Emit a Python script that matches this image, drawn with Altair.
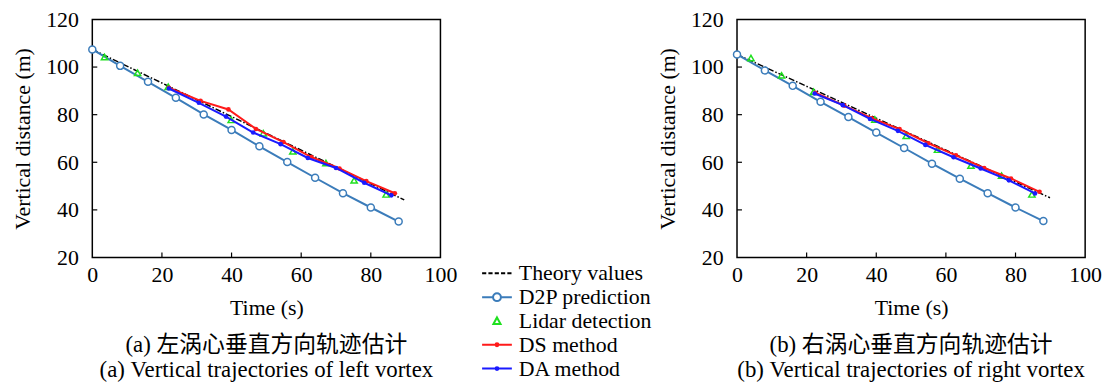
import altair as alt
import pandas as pd

# ---------------- data ----------------
SERIES = ["Theory values", "D2P prediction", "Lidar detection", "DS method", "DA method"]
COLORS = ["#000000", "#3b7cba", "#1fe01f", "#ff1a1a", "#1a1aff"]

X_TICKS = [0, 20, 40, 60, 80, 100]
Y_TICKS = [20, 40, 60, 80, 100, 120]
X_INNER_TICKS = [20, 40, 60, 80]
Y_INNER_TICKS = [40, 60, 80, 100]

d2p_t = [0, 8, 16, 24, 32, 40, 48, 56, 64, 72, 80, 88]

# left vortex
left_theory_t = [0, 89.6]
left_theory_v = [107.4, 44.2]
left_d2p_v = [107.4, 100.5, 93.8, 87.1, 80.1, 73.6, 66.7, 60.1, 53.5, 47.0, 41.0, 35.1]
left_lidar_t = [3.5, 13.0, 21.8, 39.9, 49.1, 57.6, 67.1, 75.2, 84.4]
left_lidar_v = [104.2, 97.6, 91.7, 77.8, 72.2, 64.6, 59.7, 52.4, 46.5]
left_ds_t = [22.0, 31.1, 39.1, 47.0, 54.9, 62.9, 71.0, 78.7, 86.9]
left_ds_v = [91.3, 85.8, 82.2, 74.0, 68.5, 62.2, 57.4, 52.1, 47.0]
left_da_t = [22.0, 30.6, 38.4, 46.2, 54.1, 61.9, 70.0, 78.1, 85.9]
left_da_v = [91.0, 85.0, 79.2, 72.5, 67.6, 61.8, 57.6, 51.4, 46.1]

# right vortex
right_theory_t = [0, 89.9]
right_theory_v = [105.3, 45.1]
right_d2p_v = [105.3, 98.6, 92.1, 85.4, 79.0, 72.5, 66.0, 59.4, 53.1, 47.0, 41.0, 35.3]
right_lidar_t = [4.0, 12.8, 22.0, 39.6, 48.6, 57.6, 67.2, 76.0, 84.7]
right_lidar_v = [103.8, 96.5, 89.6, 78.0, 71.1, 65.3, 58.6, 54.4, 46.5]
right_ds_t = [22.5, 30.8, 38.7, 46.7, 55.0, 62.9, 71.0, 78.7, 86.9]
right_ds_v = [89.2, 83.8, 78.5, 73.9, 68.0, 62.9, 57.6, 53.2, 47.6]
right_da_t = [22.3, 30.4, 38.2, 46.2, 54.1, 62.2, 70.0, 78.1, 85.6]
right_da_v = [88.9, 84.0, 78.2, 73.2, 67.3, 62.1, 57.4, 52.4, 46.9]

left_caption = ["(a) 左涡心垂直方向轨迹估计", "(a) Vertical trajectories of left vortex"]
right_caption = ["(b) 右涡心垂直方向轨迹估计", "(b) Vertical trajectories of right vortex"]

# legend glyphs (SVG paths, unit = half the symbol size)
LEGEND_SHAPES = [
    "M-1.25,0H-0.9M-0.72,0H-0.37M-0.19,0H0.16M0.34,0H0.69M0.87,0H1.22",
    "M-1.25,0H-0.33M0.33,0H1.25M-0.33,0A0.33,0.33 0 1,1 0.33,0A0.33,0.33 0 1,1 -0.33,0Z",
    "M0,-0.3L0.3,0.25L-0.3,0.25Z",
    "M-1.25,0H1.25M-0.12,0A0.12,0.12 0 1,1 0.12,0A0.12,0.12 0 1,1 -0.12,0Z",
    "M-1.25,0H1.25M-0.12,0A0.12,0.12 0 1,1 0.12,0A0.12,0.12 0 1,1 -0.12,0Z",
]

FONT = "Liberation Serif"
CAP_FONT = "Liberation Serif, Noto Sans CJK SC"
W, H = 351, 240


def build_df(theory_t, theory_v, d2p_v, lidar_t, lidar_v, ds_t, ds_v, da_t, da_v):
    parts = [
        pd.DataFrame({"t": theory_t, "v": theory_v, "series": SERIES[0]}),
        pd.DataFrame({"t": d2p_t, "v": d2p_v, "series": SERIES[1]}),
        pd.DataFrame({"t": lidar_t, "v": lidar_v, "series": SERIES[2]}),
        pd.DataFrame({"t": ds_t, "v": ds_v, "series": SERIES[3]}),
        pd.DataFrame({"t": da_t, "v": da_v, "series": SERIES[4]}),
    ]
    return pd.concat(parts, ignore_index=True)


XSCALE = alt.Scale(domain=[0, 100], nice=False, zero=False)
YSCALE = alt.Scale(domain=[20, 120], nice=False, zero=False)
XAXIS = alt.Axis(values=X_TICKS, title="Time (s)", labelPadding=7, titlePadding=12, labelFlush=False)
YAXIS = alt.Axis(values=Y_TICKS, title="Vertical distance (m)", labelPadding=14, titlePadding=11,
                 labelFlush=False)


def panel(df, caption, with_legend):
    x = alt.X("t:Q", scale=XSCALE, axis=XAXIS)
    y = alt.Y("v:Q", scale=YSCALE, axis=YAXIS)
    base = alt.Chart(df)

    def sel(name):
        return base.transform_filter(alt.datum.series == name)

    theory = sel(SERIES[0]).mark_line(color="black", strokeWidth=1.5, strokeDash=[6, 2, 1.5, 2]).encode(x=x, y=y)
    d2p_line = sel(SERIES[1]).mark_line(color=COLORS[1], strokeWidth=2).encode(x=x, y=y)
    d2p_pts = sel(SERIES[1]).mark_point(shape="circle", filled=True, fill="white", stroke=COLORS[1],
                                         strokeWidth=1.5, size=50, opacity=1).encode(x=x, y=y)
    lidar = sel(SERIES[2]).mark_point(shape="triangle-up", filled=False, color=COLORS[2],
                                       strokeWidth=1.5, size=40, opacity=1).encode(x=x, y=y)
    ds_line = sel(SERIES[3]).mark_line(color=COLORS[3], strokeWidth=2).encode(x=x, y=y)
    ds_pts = sel(SERIES[3]).mark_circle(color=COLORS[3], size=22, opacity=1).encode(x=x, y=y)
    da_line = sel(SERIES[4]).mark_line(color=COLORS[4], strokeWidth=2).encode(x=x, y=y)
    da_pts = sel(SERIES[4]).mark_circle(color=COLORS[4], size=22, opacity=1).encode(x=x, y=y)

    xt = alt.Chart(pd.DataFrame({"t": X_INNER_TICKS})).mark_rule(color="black", strokeWidth=1.2).encode(
        x=alt.X("t:Q", scale=XSCALE, axis=XAXIS), y=alt.value(H), y2=alt.value(H - 5))
    yt = alt.Chart(pd.DataFrame({"v": Y_INNER_TICKS})).mark_rule(color="black", strokeWidth=1.2).encode(
        y=alt.Y("v:Q", scale=YSCALE, axis=YAXIS), x=alt.value(0), x2=alt.value(5))

    layers = [xt, yt, theory, d2p_line, d2p_pts, lidar, ds_line, ds_pts, da_line, da_pts]

    if with_legend:
        leg = alt.Legend(title=None, orient="none", legendX=395, legendY=243,
                         symbolSize=576, symbolStrokeWidth=2, labelFont=FONT, labelFontSize=22,
                         labelOffset=9, rowPadding=0, padding=0, labelColor="black")
        legend_layer = base.transform_filter("false").mark_point(filled=False, opacity=1).encode(
            x=x, y=y,
            color=alt.Color("series:N", scale=alt.Scale(domain=SERIES, range=COLORS), legend=leg),
            shape=alt.Shape("series:N", scale=alt.Scale(domain=SERIES, range=LEGEND_SHAPES), legend=leg),
        )
        layers.append(legend_layer)

    return alt.layer(*layers).properties(
        width=W, height=H,
        title=alt.TitleParams(text=caption, orient="bottom", anchor="middle", frame="group",
                              font=CAP_FONT, fontSize=23, fontWeight="normal", lineHeight=25,
                              offset=16, color="black"),
    )


left_df = build_df(left_theory_t, left_theory_v, left_d2p_v, left_lidar_t, left_lidar_v,
                   left_ds_t, left_ds_v, left_da_t, left_da_v)
right_df = build_df(right_theory_t, right_theory_v, right_d2p_v, right_lidar_t, right_lidar_v,
                    right_ds_t, right_ds_v, right_da_t, right_da_v)

chart = alt.hconcat(
    panel(left_df, left_caption, True),
    panel(right_df, right_caption, False),
    spacing=299, bounds="flush",
).properties(
    padding={"left": 3, "top": -2, "right": 0, "bottom": 0},
).configure_view(
    stroke="black", strokeWidth=1.5,
).configure_axis(
    labelFont=FONT, titleFont=FONT, labelFontSize=22, titleFontSize=22,
    titleFontWeight="normal", labelColor="black", titleColor="black",
    ticks=False, tickSize=0, domain=False, grid=False,
)

chart.save("out.html", embed_options={"renderer": "svg", "actions": False})
